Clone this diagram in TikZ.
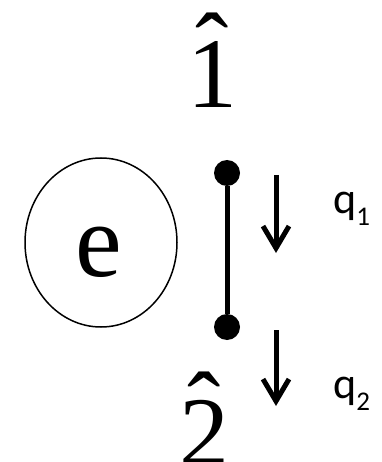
\documentclass[tikz,border=0pt]{standalone}
\usepackage{fontspec}
\newfontfamily\calfont{Carlito}
\newfontfamily\serfont{Liberation Serif}
\usetikzlibrary{arrows.meta}
\tikzset{
  dot/.style={circle, fill=black, inner sep=0pt, minimum size=26pt},
  flow/.style={line width=5pt, -{Straight Barb[length=22pt, width=26pt]}},
  bigtxt/.style={font=\serfont\fontsize{100}{120}\selectfont, inner sep=0pt, anchor=base},
  qtxt/.style={font=\calfont\fontsize{44}{50}\selectfont, inner sep=0pt, anchor=base west}
}
\newcommand{\qlab}[1]{q\raisebox{-12pt}{\fontsize{27}{30}\selectfont #1}}
\newcommand{\site}[1]{\ooalign{#1\cr\hidewidth\raisebox{25pt}{ˆ}\hidewidth\cr}}
\begin{document}
\begin{tikzpicture}[x=1pt, y=-1pt]
  \useasboundingbox (0,0) rectangle (381,462);
  % electron
  \draw[line width=1.5pt] (101,242.5) ellipse [x radius=76pt, y radius=84.5pt];
  \node[bigtxt, font=\serfont\fontsize{105}{120}\selectfont] (elec) at (99,276) {e};
  % sites
  \node[bigtxt] (one) at (212,108) {\site{1}};
  \node[bigtxt] (two) at (204,466) {\site{2}};
  \node[dot] (top) at (227,173) {};
  \node[dot] (bot) at (227,327) {};
  \draw[line width=5pt] (top) -- (bot);
  % charges
  \coordinate (s1) at (276,175);
  \coordinate (e1) at (276,253);
  \coordinate (s2) at (276,330);
  \coordinate (e2) at (276,406);
  \draw[flow] (s1) -- (e1);
  \draw[flow] (s2) -- (e2);
  \node[qtxt] (q1) at (333,213) {\qlab{1}};
  \node[qtxt] (q2) at (333,398) {\qlab{2}};
\end{tikzpicture}
\end{document}
